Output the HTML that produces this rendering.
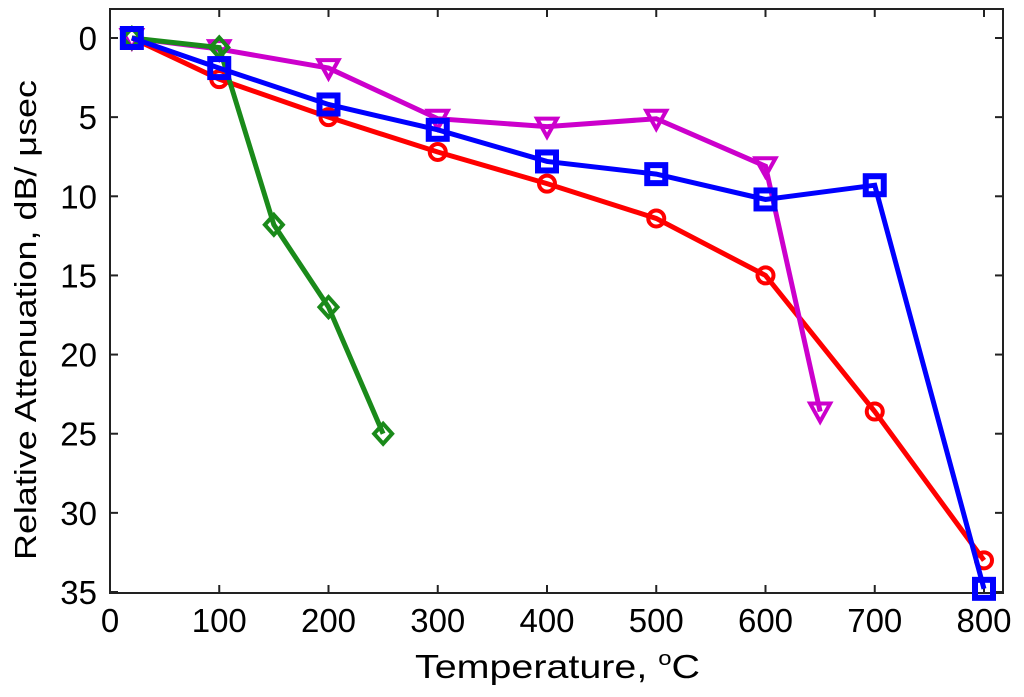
<!DOCTYPE html>
<html><head><meta charset="utf-8"><style>
body{margin:0;background:#fff;}
svg{display:block;font-family:"Liberation Sans",sans-serif;}
</style></head><body>
<svg id="chart" width="1024" height="697">
<rect x="110" y="9" width="893" height="584" fill="#fff" stroke="#222" stroke-width="2"/>
<g id="axes"></g><g id="series"></g>
<text x="415" y="678" font-size="33" textLength="285" lengthAdjust="spacingAndGlyphs">Temperature, <tspan font-size="20" dy="-13">o</tspan><tspan dy="13">C</tspan></text>
<text transform="translate(36,320) rotate(-90)" font-size="31" text-anchor="middle" textLength="480" lengthAdjust="spacingAndGlyphs">Relative Attenuation, dB/ μsec</text>
</svg>
<script>
const xTicks=[0,100,200,300,400,500,600,700,800];
const yTicks=[0,5,10,15,20,25,30,35];
const redX=[20,100,200,300,400,500,600,700,800];
const redY=[0,2.6,5,7.2,9.2,11.4,15,23.6,33];
const blueX=[20,100,200,300,400,500,600,700,800];
const blueY=[0,1.9,4.2,5.8,7.8,8.6,10.2,9.3,34.8];
const magX=[20,100,200,300,400,500,600,650];
const magY=[0,0.7,1.9,5.1,5.6,5.1,8.1,23.6];
const grnX=[20,100,150,200,250];
const grnY=[0,0.6,11.8,17,25];
const NS='http://www.w3.org/2000/svg';
const xs=v=>110+v*874/800, ys=v=>38+v*554/35;
const ax=document.getElementById('axes'), sg=document.getElementById('series');
function mk(t,a,p){const e=document.createElementNS(NS,t);for(const k in a)e.setAttribute(k,a[k]);p.appendChild(e);return e;}
xTicks.forEach(v=>{const x=xs(v);
 mk('line',{x1:x,x2:x,y1:593,y2:585,stroke:'#222','stroke-width':2},ax);
 mk('line',{x1:x,x2:x,y1:9,y2:17,stroke:'#222','stroke-width':2},ax);
 const t=mk('text',{x:x,y:632,'font-size':33,'text-anchor':'middle'},ax);t.textContent=v;
 
 });
yTicks.forEach(v=>{const y=ys(v);
 mk('line',{x1:110,x2:118,y1:y,y2:y,stroke:'#222','stroke-width':2},ax);
 mk('line',{x1:1003,x2:995,y1:y,y2:y,stroke:'#222','stroke-width':2},ax);
 const t=mk('text',{x:97,y:y+12,'font-size':33,'text-anchor':'end'},ax);t.textContent=v;
 
 });
function series(X,Y,col,mark,name){
 const g=mk('g',{},sg);
 
 
 mk('polyline',{points:X.map((x,i)=>xs(x)+','+ys(Y[i])).join(' '),fill:'none',stroke:col,'stroke-width':5},g);
 X.forEach((x,i)=>{const cx=xs(x),cy=ys(Y[i]);let m;
  if(mark==='o')m=mk('circle',{cx:cx,cy:cy,r:8,fill:'none',stroke:col,'stroke-width':4},g);
  else if(mark==='s')m=mk('rect',{x:cx-9,y:cy-9,width:18,height:18,fill:'none',stroke:col,'stroke-width':6},g);
  else if(mark==='v')m=mk('polygon',{points:`${cx-10},${cy-8} ${cx+10},${cy-8} ${cx},${cy+10}`,fill:'none',stroke:col,'stroke-width':4},g);
  else m=mk('polygon',{points:`${cx},${cy-10} ${cx+9},${cy} ${cx},${cy+10} ${cx-9},${cy}`,fill:'none',stroke:col,'stroke-width':4},g);
  
  });
}
series(redX,redY,'#ff0000','o','red-series');
series(magX,magY,'#cc00cc','v','magenta-series');
series(grnX,grnY,'#1a8a1a','d','green-series');
series(blueX,blueY,'#0000ff','s','blue-series');
</script>
</body></html>
